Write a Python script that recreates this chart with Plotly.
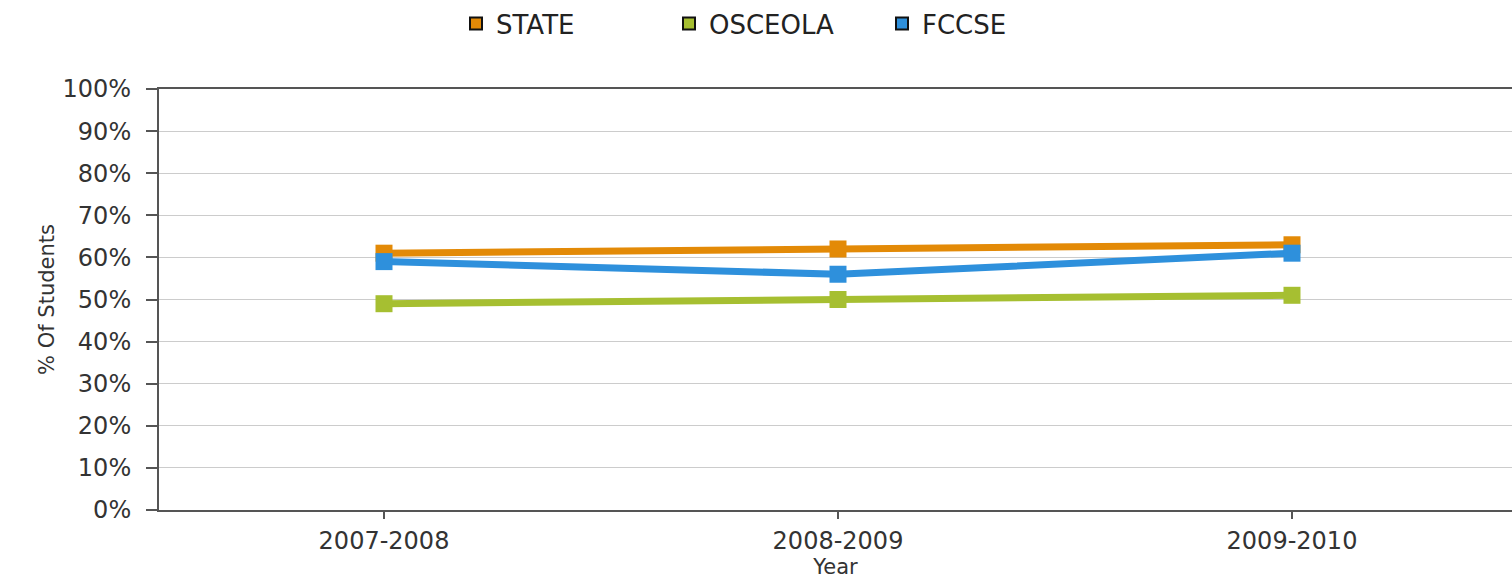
import plotly.graph_objects as go

years = ["2007-2008", "2008-2009", "2009-2010"]
series_names = ["STATE", "OSCEOLA", "FCCSE"]
state = [61, 62, 63]
osceola = [49, 50, 51]
fccse = [59, 56, 61]
colors = ["#E38A07", "#A6BF31", "#2E90DC"]
y_ticks = [0, 10, 20, 30, 40, 50, 60, 70, 80, 90, 100]

FONT = "DejaVu Sans"
fig = go.Figure()
for name, vals, col in zip(series_names, [state, osceola, fccse], colors):
    fig.add_trace(go.Scatter(
        x=years, y=vals, mode="lines+markers", name=name, showlegend=False,
        line=dict(color=col, width=7),
        marker=dict(symbol="square", size=17, color=col),
    ))
# legend-only entries (square swatches)
for name, col in zip(series_names, colors):
    fig.add_trace(go.Scatter(
        x=[None], y=[None], mode="markers", name=name,
        marker=dict(symbol="square", size=20, color=col, line=dict(color="#111", width=2)),
    ))

fig.update_layout(
    width=1512, height=579,
    margin=dict(l=159, r=0, t=88, b=69),
    paper_bgcolor="white", plot_bgcolor="white",
    font=dict(family=FONT, color="#333", size=21),
    legend=dict(orientation="h", xref="paper", yanchor="middle", xanchor="left",
                x=(456 - 159) / 1353, y=1 + (88 - 22) / 422,
                font=dict(size=26, color="#222"), itemsizing="constant",
                entrywidth=168, entrywidthmode="pixels", tracegroupgap=0),
)
fig.update_xaxes(
    type="category", range=[-0.4956, 2.4846],
    showline=True, linecolor="#555", linewidth=2, mirror=True,
    ticks="outside", ticklen=7, tickcolor="#555", tickwidth=2,
    showgrid=False, zeroline=False,
    tickfont=dict(size=24, color="#333", family=FONT), ticklabelstandoff=1,
    title=dict(text="Year", font=dict(size=21, color="#333", family=FONT), standoff=4),
)
fig.update_yaxes(
    range=[0, 100], tickvals=y_ticks, ticktext=[f"{v}%" for v in y_ticks],
    showline=True, linecolor="#555", linewidth=2,
    ticks="outside", ticklen=11, tickcolor="#555", tickwidth=2,
    showgrid=True, gridcolor="#cccccc", gridwidth=1, zeroline=False,
    tickfont=dict(size=24, color="#333", family=FONT), ticklabelstandoff=10,
    title=dict(text="% Of Students", font=dict(size=21, color="#333", family=FONT), standoff=2),
)
fig.write_html("out.html", config={"displayModeBar": False},
               post_script="document.body.style.margin='0';document.body.style.overflow='hidden';")
